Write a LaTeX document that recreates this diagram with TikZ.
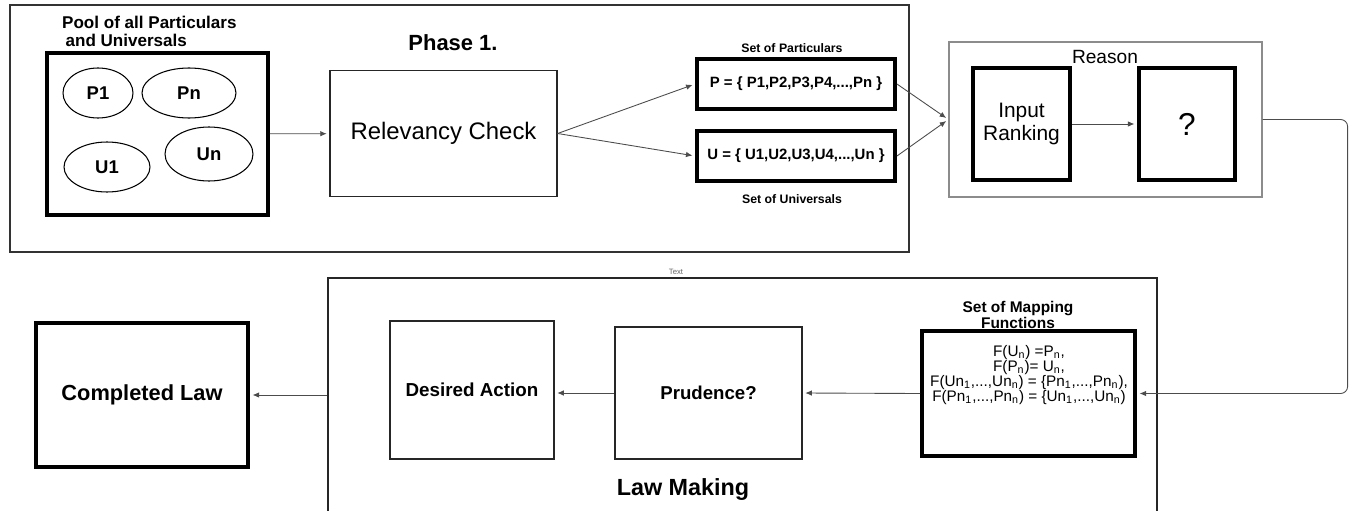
\documentclass[tikz,border=0pt]{standalone}
\usepackage{fontspec}
\setmainfont{Liberation Sans}
\setsansfont{Liberation Sans}
\usetikzlibrary{arrows.meta,shapes.geometric}
\tikzset{
  arr/.style={line width=0.5pt, draw=black!70, -{Latex[length=1.3mm, width=1.1mm]}, shorten >=1.5pt},
  frame/.style={draw=black!80, line width=0.7pt, minimum width=#1},
  heavy/.style={draw, line width=2.2pt, align=center, inner sep=0pt},
  plain/.style={draw=black!85, line width=0.7pt, align=center, inner sep=0pt},
  item/.style={ellipse, draw, line width=0.6pt, inner sep=0pt, font=\fontsize{10.5}{12}\selectfont\bfseries},
  setcap/.style={font=\fontsize{7}{8}\selectfont\bfseries, align=center},
}
\newcommand{\fsz}[1]{\fontsize{#1}{#1}\selectfont}

\begin{document}
\begin{tikzpicture}[font=\sffamily]
\useasboundingbox (0,0) rectangle (27.08,-10.22);

\node[frame=17.98cm, minimum height=4.94cm] (phase) at (9.19,-2.57) {};
\node[font=\fsz{12.5}\bfseries] (phasetxt) at (9.06,-0.86) {Phase 1.};

\node[heavy, minimum width=4.42cm, minimum height=3.24cm] (pool) at (3.15,-2.68) {};
\node[anchor=west, align=left, font=\fontsize{9.7}{9.8}\selectfont\bfseries] (pooltxt) at (1.12,-0.63)
  {Pool of all Particulars\\\hspace*{0.2em}and Universals};
\node[item, minimum width=1.40cm, minimum height=1.00cm] (p1) at (1.96,-1.86) {P1};
\node[item, minimum width=1.88cm, minimum height=1.00cm] (pn) at (3.78,-1.86) {Pn};
\node[item, minimum width=1.72cm, minimum height=1.00cm] (u1) at (2.14,-3.34) {U1};
\node[item, minimum width=1.76cm, minimum height=1.08cm] (un) at (4.18,-3.08) {Un};

\node[plain, minimum width=4.54cm, minimum height=2.52cm, font=\fsz{13.6}] (relev) at (8.87,-2.67) {Relevancy Check};

\node[setcap] (partcap) at (15.84,-0.96) {Set of Particulars};
\node[heavy, minimum width=3.96cm, minimum height=1.00cm, font=\fsz{8.5}\bfseries] (pset) at (15.92,-1.68)
  {P = \{ P1,P2,P3,P4,...,Pn \}};
\node[heavy, minimum width=3.96cm, minimum height=1.00cm, font=\fsz{8.5}\bfseries] (uset) at (15.92,-3.12)
  {U = \{ U1,U2,U3,U4,...,Un \}};
\node[setcap] (univcap) at (15.84,-3.98) {Set of Universals};

\node[draw=black!45, line width=0.7pt, minimum width=6.26cm, minimum height=3.10cm] (reason) at (22.11,-2.39) {};
\node[font=\fsz{10.9}] (reasontxt) at (22.10,-1.14) {Reason};
\node[heavy, minimum width=1.94cm, minimum height=2.24cm, font=\fontsize{11.9}{12.6}\selectfont] (rank) at (20.43,-2.48)
  {Input\\Ranking};
\node[heavy, minimum width=1.92cm, minimum height=2.24cm, font=\fsz{18}] (quest) at (23.74,-2.48) {?};

\node[plain, minimum width=16.58cm, minimum height=5.20cm] (law) at (14.85,-8.16) {};
\node[font=\fsz{4.4}, text=black!60] (lawtag) at (13.52,-5.44) {Text};
\node[font=\fsz{13.3}\bfseries] (lawtxt) at (13.66,-9.80) {Law Making};
\node[plain, minimum width=3.28cm, minimum height=2.76cm, font=\fsz{10.7}\bfseries] (desired) at (9.44,-7.80) {Desired Action};
\node[plain, minimum width=3.74cm, minimum height=2.64cm, font=\fsz{10.6}\bfseries] (prud) at (14.17,-7.86) {Prudence?};

\node[heavy, minimum width=4.26cm, minimum height=2.50cm] (map) at (20.57,-7.87) {};
\node[align=center, font=\fontsize{8.8}{8.9}\selectfont\bfseries] (mapcap) at (20.36,-6.30) {Set of Mapping\\Functions};
\node[align=center, font=\fontsize{8.7}{8.6}\selectfont] (maptxt) at (20.58,-7.50)
  {F(U\textsubscript{n}) =P\textsubscript{n},\\
   F(P\textsubscript{n})= U\textsubscript{n},\\
   F(Un\textsubscript{1},...,Un\textsubscript{n}) = \{Pn\textsubscript{1},...,Pn\textsubscript{n}),\\
   F(Pn\textsubscript{1},...,Pn\textsubscript{n}) = \{Un\textsubscript{1},...,Un\textsubscript{n})};

\node[heavy, minimum width=4.24cm, minimum height=2.88cm, font=\fsz{12.4}\bfseries] (done) at (2.84,-7.90) {Completed Law};

\draw[arr] (pool) -- (relev);
\draw[arr] (relev.east) -- (pset.west);
\draw[arr] (relev.east) -- (uset.west);
\draw[arr] (pset.east) -- (reason.west);
\draw[arr] (uset.east) -- (reason.west);
\draw[arr] (rank.east) -- (quest.west);
\draw[arr, rounded corners=4pt] (reason.east) -- ++(1.7,0) |- (map.east);
\draw[arr] (map.west) -- (prud.east);
\draw[arr] (prud.west) -- (prud.west -| desired.east);
\draw[arr] (law.west |- done.east) -- (done.east);

\end{tikzpicture}
\end{document}
